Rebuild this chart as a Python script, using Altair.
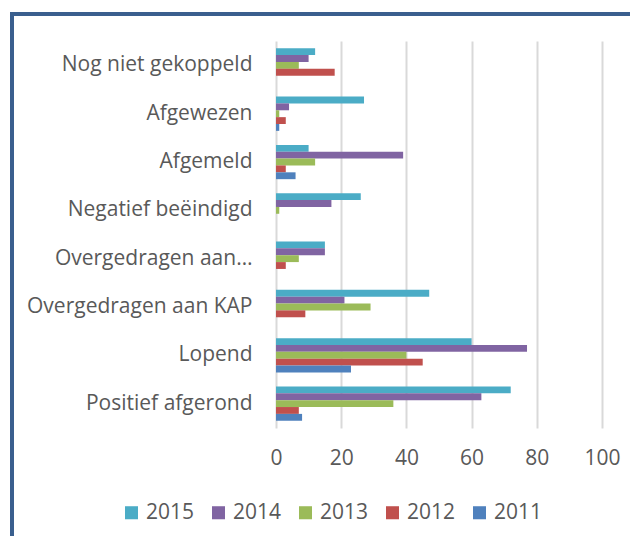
import altair as alt
import pandas as pd

categories = ["Nog niet gekoppeld", "Afgewezen", "Afgemeld", "Negatief beëindigd",
              "Overgedragen aan…", "Overgedragen aan KAP", "Lopend", "Positief afgerond"]
years = ["2015", "2014", "2013", "2012", "2011"]
v2015 = [12, 27, 10, 26, 15, 47, 60, 72]
v2014 = [10, 4, 39, 17, 15, 21, 77, 63]
v2013 = [7, 1, 12, 1, 7, 29, 40, 36]
v2012 = [18, 3, 3, 0, 3, 9, 45, 7]
v2011 = [0, 1, 6, 0, 0, 0, 23, 8]
colors = ["#4BACC6", "#8064A2", "#9BBB59", "#C0504D", "#4F81BD"]
x_ticks = [0, 20, 40, 60, 80, 100]

series = {"2015": v2015, "2014": v2014, "2013": v2013, "2012": v2012, "2011": v2011}
rows = []
for y in years:
    for c, v in zip(categories, series[y]):
        rows.append({"categorie": c, "jaar": y, "aantal": v})
df = pd.DataFrame(rows)

FONT = "Open Sans"
GREY = "#595959"
FS = 21

bars = alt.Chart(df).mark_bar().encode(
    y=alt.Y("categorie:N", sort=categories, title=None,
            scale=alt.Scale(paddingInner=0.29, paddingOuter=0.15),
            axis=alt.Axis(domain=False, ticks=False, labelFontSize=FS, labelFont=FONT,
                          labelColor=GREY, labelPadding=24, labelLimit=300)),
    yOffset=alt.YOffset("jaar:N", sort=years),
    x=alt.X("aantal:Q", title=None, scale=alt.Scale(domain=[0, 100], nice=False),
            axis=alt.Axis(values=x_ticks, domain=False, ticks=False, grid=True,
                          gridColor="#D9D9D9", gridWidth=2, labelFontSize=FS,
                          labelFont=FONT, labelColor=GREY, labelPadding=19,
                          labelFlush=False)),
    color=alt.Color("jaar:N", sort=years,
                    scale=alt.Scale(domain=years, range=colors),
                    legend=alt.Legend(title=None, orient="none", direction="horizontal",
                                      columns=5, legendX=-155, legendY=461,
                                      symbolType="square", symbolSize=170,
                                      symbolStrokeWidth=0, labelFontSize=FS,
                                      labelFont=FONT, labelColor=GREY,
                                      columnPadding=13, symbolOffset=0, labelOffset=4)),
)

frame_df = pd.DataFrame({"k": [0]})
top_border = alt.Chart(frame_df).mark_rule(color="#3A5F8E", strokeWidth=4).encode(
    x=alt.value(-266), x2=alt.value(360), y=alt.value(-27))
left_border = alt.Chart(frame_df).mark_rule(color="#3A5F8E", strokeWidth=4).encode(
    x=alt.value(-264), y=alt.value(-29), y2=alt.value(500))

chart = alt.layer(bars, top_border, left_border).properties(
    width=326, height=387,
    autosize=alt.AutoSizeParams(type="none"),
    padding={"left": 268, "top": 33, "right": 28, "bottom": 108},
).configure_view(stroke=None)

chart.save("out.html", embed_options={"renderer": "svg", "actions": False})
